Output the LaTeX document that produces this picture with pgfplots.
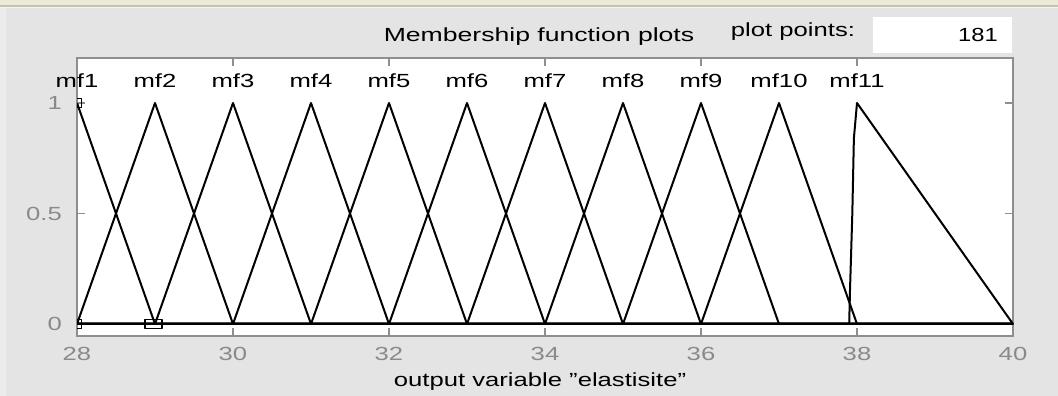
\documentclass[border=0pt]{standalone}
\usepackage{fontspec}
\setmainfont{Liberation Sans}[Ligatures=ResetAll]
\usepackage{graphicx}
\usepackage{pgfplots}
\pgfplotsset{compat=1.18}

\definecolor{panel}{HTML}{E4E4E4}
\definecolor{panelleft}{HTML}{ECECEC}
\definecolor{topband}{HTML}{ECE9D8}
\definecolor{topline}{HTML}{C4C1B1}
\definecolor{framegrey}{HTML}{8E8E8E}
\definecolor{tickgrey}{HTML}{8A8A8A}

% GUI font: wide sans serif
\newcommand\ft{\fontsize{19}{22}\selectfont}
\newcommand\wide[1]{\scalebox{1.35}[1]{#1}}

\begin{document}
\begin{tikzpicture}
\useasboundingbox (0,0) rectangle (1058pt,396pt);
% window panel
\fill[panel] (0,0) rectangle (1058pt,396pt);
\fill[panelleft] (0,0) rectangle (6pt,388pt);
\fill[topband] (0,391pt) rectangle (1058pt,396pt);
\fill[topline] (0,389pt) rectangle (1058pt,391pt);
\fill[white!60!panel] (0,388pt) rectangle (1058pt,389pt);

\begin{axis}[
  at={(77pt,60pt)}, anchor=south west,
  scale only axis, width=936pt, height=278pt,
  xmin=28, xmax=40, ymin=-0.0543, ymax=1.2036,
  axis background/.style={fill=white},
  axis line style={draw=framegrey, line width=1.3pt},
  tick align=inside,
  major tick length=8pt,
  tick style={draw=framegrey, line width=1.1pt},
  xtick={28,30,32,34,36,38,40},
  xticklabels={\wide{28},\wide{30},\wide{32},\wide{34},\wide{36},\wide{38},\wide{40}},
  ytick={0,0.5,1},
  yticklabels={\wide{0},\wide{0.5},\wide{1}},
  xticklabel style={font=\ft, text=tickgrey, inner sep=0pt, anchor=north, yshift=-11pt},
  yticklabel style={font=\ft, text=tickgrey, inner sep=0pt, anchor=east, xshift=-15pt},
  clip marker paths=true,
  every axis plot/.append style={line join=round},
]
% triangular membership functions
\addplot[black, line width=2pt] coordinates {(28,1) (29,0) (40,0)};
\addplot[black, line width=2pt] coordinates {(28,0) (29,1) (30,0) (40,0)};
\addplot[black, line width=2pt] coordinates {(28,0) (29,0) (30,1) (31,0) (40,0)};
\addplot[black, line width=2pt] coordinates {(28,0) (30,0) (31,1) (32,0) (40,0)};
\addplot[black, line width=2pt] coordinates {(28,0) (31,0) (32,1) (33,0) (40,0)};
\addplot[black, line width=2pt] coordinates {(28,0) (32,0) (33,1) (34,0) (40,0)};
\addplot[black, line width=2pt] coordinates {(28,0) (33,0) (34,1) (35,0) (40,0)};
\addplot[black, line width=2pt] coordinates {(28,0) (34,0) (35,1) (36,0) (40,0)};
\addplot[black, line width=2pt] coordinates {(28,0) (35,0) (36,1) (37,0) (40,0)};
\addplot[black, line width=2pt] coordinates {(28,0) (36,0) (37,1) (38,0) (40,0)};
\addplot[black, line width=2pt] coordinates {(28,0) (37.9,0) (37.91,0.15) (37.94,0.5) (37.96,0.84) (38,1) (40,0)};
% vertices of the selected function
\addplot[only marks, mark=square, mark size=4.5pt, mark options={black, line width=1.4pt}] coordinates {(28,1) (28,0)};
\addplot[only marks, mark=square, mark size=4.5pt, mark options={black, line width=1.4pt, xscale=1.9}] coordinates {(28.98,0)};
% anchor points for the function names
\foreach \k/\x in {1/28,2/29,3/30,4/31,5/32,6/33,7/34,8/35,9/36,10/37,11/38}{
  \edef\tmp{\noexpand\coordinate (mf\k) at (axis cs:\x,1.072);}
  \tmp
}
\end{axis}

% function names (unclipped)
\foreach \k in {1,...,11}{
  \node[anchor=base, font=\ft, inner sep=0pt] at (mf\k) {\wide{mf\k}};
}

% header and footer texts
\node[anchor=base, font=\ft, inner sep=0pt] at (539pt,354pt) {\scalebox{1.4}[1]{Membership function plots}};
\node[anchor=base, font=\ft, inner sep=0pt] at (793pt,359pt) {\wide{plot points:}};
\fill[white] (873pt,343pt) rectangle (1012pt,379pt);
\node[anchor=base east, font=\ft, inner sep=0pt] at (998pt,354pt) {\scalebox{1.25}[1]{181}};
\node[anchor=base, font=\ft, inner sep=0pt] at (540pt,9pt) {\wide{output variable "elastisite"}};
\end{tikzpicture}
\end{document}
